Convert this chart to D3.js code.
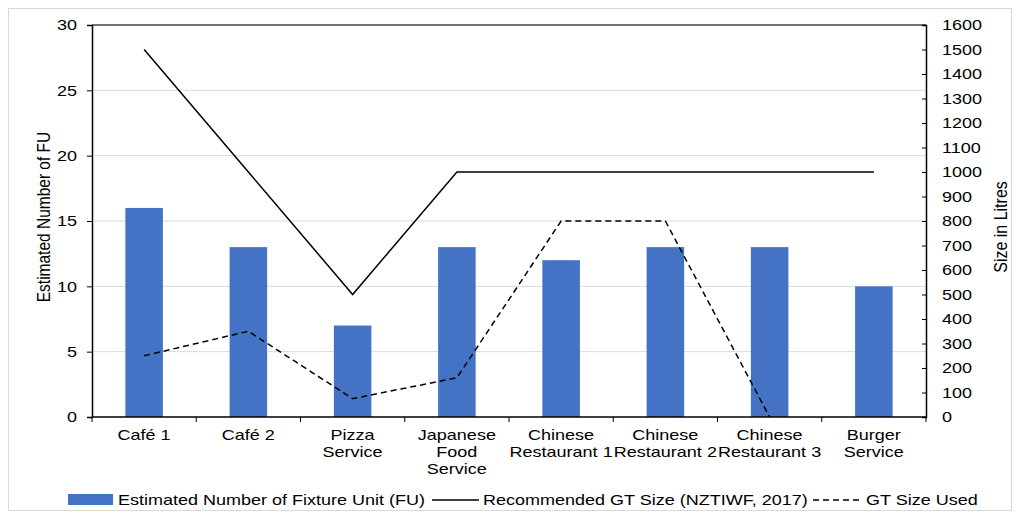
<!DOCTYPE html>
<html><head><meta charset="utf-8">
<script src="https://cdn.jsdelivr.net/npm/d3@7"></script>
<style>
body{margin:0;background:#fff;}
text{font-family:"Liberation Sans",Arial,sans-serif;fill:#000;}
</style></head>
<body><svg id="c" width="1018" height="519"></svg>
<script>
const categories = [["Café 1"],["Café 2"],["Pizza","Service"],["Japanese","Food","Service"],["Chinese","Restaurant 1"],["Chinese","Restaurant 2"],["Chinese","Restaurant 3"],["Burger","Service"]];
const fuValues = [16,13,7,13,12,13,13,10];
const recommended = [1500,1000,500,1000,1000,1000,1000,1000];
const gtUsed = [250,350,75,160,800,800,0,null];
const leftTicks = [0,5,10,15,20,25,30];
const rightTicks = d3.range(0,1601,100);
const legendLabels = ["Estimated Number of Fixture Unit (FU)","Recommended GT Size (NZTIWF, 2017)","GT Size Used"];

const svg = d3.select("#c");
const L=92, R=926, T=25, B=417;
const STRETCH = 1.2;
svg.append("rect").attr("x",8.5).attr("y",8.5).attr("width",1003).attr("height",502)
  .attr("fill","#fff").attr("stroke","#d9d9d9");

const x = d3.scaleBand().domain(d3.range(categories.length)).range([L,R]).paddingInner(0.64).paddingOuter(0.32);
const y = d3.scaleLinear().domain([0,30]).range([B,T]);
const y2 = d3.scaleLinear().domain([0,1600]).range([B,T]);
const cx = i => x(i)+x.bandwidth()/2;

// gridlines
svg.append("g").selectAll("line").data(leftTicks.filter(d=>d>0&&d<30)).join("line")
  .attr("x1",L).attr("x2",R).attr("y1",d=>y(d)).attr("y2",d=>y(d))
  .attr("stroke","#d9d9d9").attr("stroke-width",1);

// bars
svg.append("g").selectAll("rect").data(fuValues).join("rect")
  .attr("x",(d,i)=>x(i)).attr("width",x.bandwidth())
  .attr("y",d=>y(d)).attr("height",d=>B-y(d)).attr("fill","#4472C4");

// lines
const line = d3.line().defined(d=>d!=null).x((d,i)=>cx(i)).y(d=>y2(d));
svg.append("path").attr("d",line(recommended)).attr("fill","none").attr("stroke","#000").attr("stroke-width",1.5);
svg.append("path").attr("d",line(gtUsed)).attr("fill","none").attr("stroke","#000").attr("stroke-width",1.5).attr("stroke-dasharray","6,4");

// frame
svg.append("line").attr("x1",L).attr("x2",R).attr("y1",T).attr("y2",T).attr("stroke","#404040").attr("stroke-width",1.3);

// left axis
const gl = svg.append("g").attr("transform",`translate(${L},0)`)
  .call(d3.axisLeft(y).tickValues(leftTicks).tickSize(5).tickPadding(10));
gl.select(".domain").attr("stroke","#000").attr("stroke-width",1.5);
gl.selectAll(".tick line").attr("stroke","#000");
gl.selectAll("text").style("font-size","15px").attr("font-family","Liberation Sans, Arial, sans-serif").attr("fill","#000");

// right axis (ticks inward)
const gr = svg.append("g").attr("transform",`translate(${R},0)`)
  .call(d3.axisRight(y2).tickValues(rightTicks).tickFormat(d3.format("d")).tickSize(-4).tickPadding(16));
gr.select(".domain").attr("stroke","#000").attr("stroke-width",1.5);
gr.selectAll(".tick line").attr("stroke","#000");
gr.selectAll("text").style("font-size","15px").attr("font-family","Liberation Sans, Arial, sans-serif").attr("fill","#000");

// bottom axis line
svg.append("line").attr("x1",L).attr("x2",R).attr("y1",B).attr("y2",B).attr("stroke","#000").attr("stroke-width",1.5);
// x ticks (outward)
svg.append("g").selectAll("line").data(d3.range(categories.length+1)).join("line")
  .attr("x1",i=>L+i*(R-L)/categories.length).attr("x2",i=>L+i*(R-L)/categories.length)
  .attr("y1",B).attr("y2",B+5).attr("stroke","#000");

// x labels
const xl = svg.append("g").selectAll("text").data(categories).join("text")
  .attr("text-anchor","middle").style("font-size","15px");
xl.each(function(lines,i){
  d3.select(this).selectAll("tspan").data(lines).join("tspan")
    .attr("x",cx(i)).attr("y",(d,j)=>440+j*17).text(d=>d);
});

// legend
const ly = 500;
const lg = svg.append("g");
lg.append("rect").attr("x",68).attr("y",ly-6).attr("width",45).attr("height",11).attr("fill","#4472C4");
lg.append("text").attr("x",118).attr("y",ly+5).style("font-size","15px").text(legendLabels[0]);
lg.append("line").attr("x1",432).attr("x2",479).attr("y1",ly).attr("y2",ly).attr("stroke","#000").attr("stroke-width",1.5);
lg.append("text").attr("x",483).attr("y",ly+5).style("font-size","15px").text(legendLabels[1]);
lg.append("line").attr("x1",813).attr("x2",860).attr("y1",ly).attr("y2",ly).attr("stroke","#000").attr("stroke-width",1.5).attr("stroke-dasharray","6,4");
lg.append("text").attr("x",866).attr("y",ly+5).style("font-size","15px").text(legendLabels[2]);

// horizontal stretch of text to match reference glyph widths
svg.selectAll("text").each(function(){
  const tsp = d3.select(this).selectAll("tspan");
  if (tsp.size()) {
    tsp.each(function(){
      const len = this.getComputedTextLength();
      d3.select(this).attr("textLength", len*STRETCH).attr("lengthAdjust","spacingAndGlyphs");
    });
  } else {
    const len = this.getComputedTextLength();
    d3.select(this).attr("textLength", len*STRETCH).attr("lengthAdjust","spacingAndGlyphs");
  }
});

// axis titles (rotated; glyphs widened perpendicular to text direction)
svg.append("text").attr("transform",`translate(50,217) rotate(-90) scale(1,${STRETCH})`)
  .attr("text-anchor","middle").style("font-size","15.5px").text("Estimated Number of FU");
svg.append("text").attr("transform",`translate(1007,227) rotate(-90) scale(1,${STRETCH})`)
  .attr("text-anchor","middle").style("font-size","16px").text("Size in Litres");
</script></body></html>
